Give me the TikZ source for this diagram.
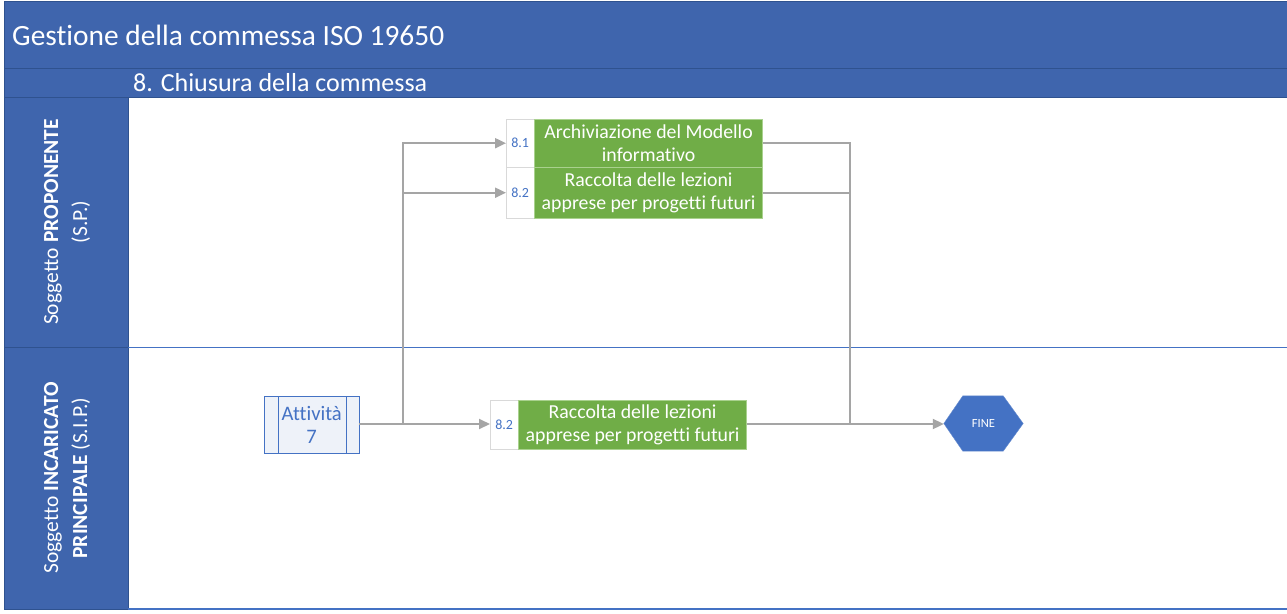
\documentclass[tikz,border=0pt]{standalone}
\usepackage{fontspec}
\setmainfont[Ligatures=NoCommon]{Carlito}
\usetikzlibrary{arrows.meta,calc}

\definecolor{hdr}{HTML}{3F65AD}
\definecolor{hdrline}{HTML}{2F528F}
\definecolor{lane}{HTML}{4472C4}
\definecolor{grn}{HTML}{70AD47}
\definecolor{grnline}{HTML}{A9D18E}
\definecolor{numblue}{HTML}{4472C4}
\definecolor{conn}{HTML}{A5A5A5}
\definecolor{actfill}{HTML}{EEF2F9}
\definecolor{finefill}{HTML}{4472C4}

\tikzset{
  band/.style={fill=hdr, draw=hdrline, line width=0.8pt},
  numcell/.style={draw=black!15, fill=white, text=numblue, minimum width=28pt,
    inner sep=0pt, font=\fontsize{14}{16}\selectfont},
  taskbox/.style={draw=grnline, fill=grn, text=white, minimum width=228pt,
    inner sep=0pt, align=center, font=\fontsize{19.8}{23}\selectfont},
  lanelabel/.style={rotate=90, text=white, align=center,
    font=\fontsize{21.5}{29}\selectfont},
  flow/.style={draw=conn, line width=2pt},
  arrowflow/.style={flow, -{Triangle[length=11pt,width=10pt]}},
}

\begin{document}
\begin{tikzpicture}[x=1pt,y=-1pt]
\useasboundingbox (0,0) rectangle (1287,613);
\fill[white] (0,0) rectangle (1287,613);

% title and phase bands
\draw[band] (4,1) rectangle (1290,68);
\draw[band] (4,68) rectangle (1290,97);
\node[anchor=west, text=white, font=\fontsize{29.4}{34}\selectfont, inner sep=0pt]
  (title) at (12,35) {Gestione della commessa ISO 19650};
\node[anchor=west, text=white, font=\fontsize{26}{30}\selectfont, inner sep=0pt]
  (phase) at (133,83) {8. Chiusura della commessa};

% swimlane headers
\draw[band] (4,97) rectangle (128,347);
\draw[band] (4,347) rectangle (128,609);
\node[lanelabel] (lane1) at (67,222) {Soggetto \textbf{PROPONENTE}\\(S.P.)};
\node[lanelabel] (lane2) at (67,478) {Soggetto \textbf{INCARICATO}\\\textbf{PRINCIPALE} (S.I.P.)};

% swimlane separators
\draw[lane, line width=1pt] (128,347) -- (1287,347);
\draw[lane, line width=1.5pt] (128,609) -- (1287,609);

% activities of the proponent
\node[numcell, minimum height=48pt, anchor=north west] (n81) at (506,119) {8.1};
\node[taskbox, minimum height=48pt, anchor=north west] (t81) at (n81.north east)
  {Archiviazione del Modello\\informativo};
\node[numcell, minimum height=51pt, anchor=north west] (n82) at (506,167) {8.2};
\node[taskbox, minimum height=51pt, anchor=north west] (t82) at (n82.north east)
  {Raccolta delle lezioni\\apprese per progetti futuri};

% activities of the principal appointed party
\node[numcell, minimum height=49pt, anchor=north west] (n82b) at (490,400) {8.2};
\node[taskbox, minimum height=49pt, anchor=north west] (t82b) at (n82b.north east)
  {Raccolta delle lezioni\\apprese per progetti futuri};

% predecessor activity (subprocess box)
\node[draw=numblue, fill=actfill, text=numblue, minimum width=95pt, minimum height=57pt,
  inner sep=0pt, align=center, font=\fontsize{20.6}{23}\selectfont, anchor=north west]
  (att) at (264,396) {Attività\\7};
\draw[numblue] ($(att.north west)+(14,0)$) -- ($(att.south west)+(14,0)$);
\draw[numblue] ($(att.north east)+(-13,0)$) -- ($(att.south east)+(-13,0)$);

% end event
\node[minimum width=79pt, minimum height=55pt, inner sep=0pt] (fine) at (983.5,423.5) {};
\fill[finefill, draw=finefill!80!white]
  (fine.west) -- ($(fine.north west)+(19,0)$) -- ($(fine.north east)+(-20,0)$)
  -- (fine.east) -- ($(fine.south east)+(-20,0)$) -- ($(fine.south west)+(19,0)$) -- cycle;
\node[text=white, font=\fontsize{12.5}{14}\selectfont] (finetxt) at (fine.center) {FINE};

% connectors
\coordinate (split) at (403,424);
\coordinate (join) at (850,424);
\draw[arrowflow] (att.east |- split) -- (n82b.west |- split);
\draw[arrowflow] (split) |- (n81.west);
\draw[arrowflow] (split) |- (n82.west);
\draw[flow] (t81.east) -| (join);
\draw[flow] (t82.east) -| (join);
\draw[arrowflow] (t82b.east |- join) -- (fine.west |- join);

\end{tikzpicture}
\end{document}
